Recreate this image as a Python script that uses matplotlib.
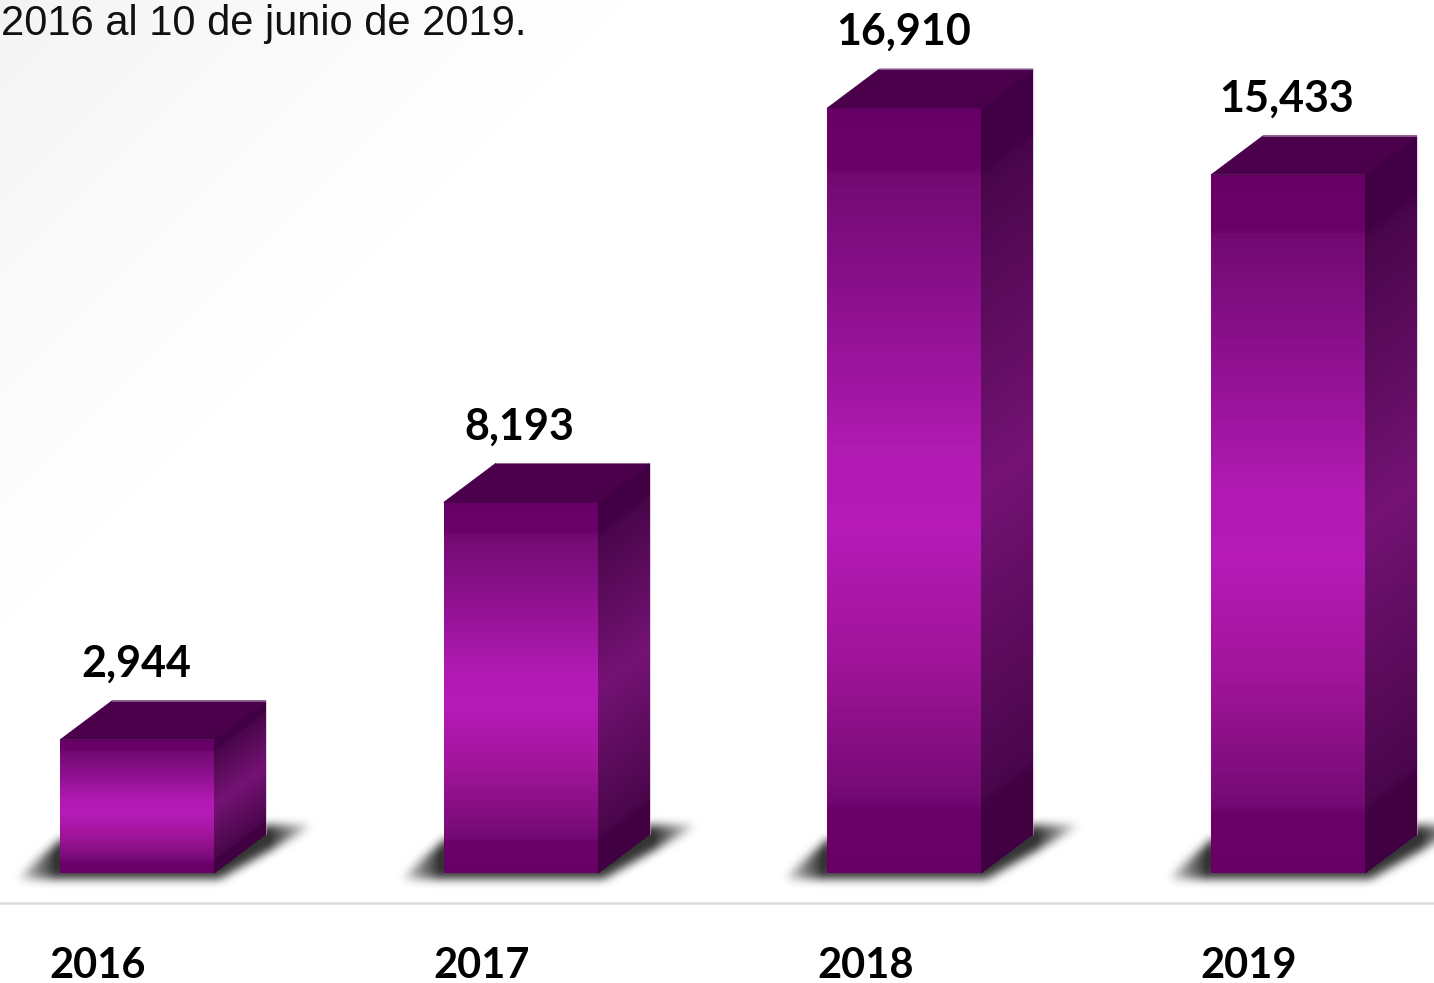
from matplotlib import pyplot as plt
from matplotlib.colors import LinearSegmentedColormap
from matplotlib.path import Path
from matplotlib.patches import Polygon
import numpy as np


years = ["2016", "2017", "2018", "2019"]
values = [2944, 8193, 16910, 15433]
value_labels = ["2,944", "8,193", "16,910", "15,433"]
note_text = "2016 al 10 de junio de 2019."

WIDTH = 1434
HEIGHT = 983
PX_PER_UNIT = 765 / 16910
PX_PER_CAT = 383.67
X_FIRST = 137
Y_ZERO = 873

BAR_W = 154 / PX_PER_CAT
DEPTH_X = 52 / PX_PER_CAT
DEPTH_Y = 39 / PX_PER_UNIT

front_cmap = LinearSegmentedColormap.from_list("front", [
    (0.0, "#660066"), (0.075, "#680068"), (0.09, "#720a72"), (0.3, "#941296"),
    (0.45, "#b01ab2"), (0.55, "#b51ab7"), (0.72, "#a01499"), (0.9, "#750a74"),
    (0.92, "#680068"), (1.0, "#660066")])
side_cmap = LinearSegmentedColormap.from_list("side", [
    (0.0, "#420044"), (0.08, "#420044"), (0.1, "#4a064b"), (0.5, "#741274"),
    (0.9, "#4a064b"), (0.92, "#400042"), (1.0, "#400042")])


def px_x(dx):
    return dx / PX_PER_CAT


def px_y(dy):
    return dy / PX_PER_UNIT


def draw_background(ax):
    xx, yy = np.meshgrid(np.arange(WIDTH // 4), np.arange(HEIGHT // 4))
    fade = np.clip((xx + yy) * 4 / 680, 0, 1)
    grey = 0.955 + 0.045 * fade
    ax.imshow(grey, extent=[0, 1, 0, 1], transform=ax.transAxes, cmap="gray",
              vmin=0, vmax=1, aspect="auto", origin="upper", zorder=0)


def blur(mask, size):
    kernel = np.ones(size) / size
    for _ in range(3):
        mask = np.apply_along_axis(lambda row: np.convolve(row, kernel, mode="same"), 0, mask)
        mask = np.apply_along_axis(lambda row: np.convolve(row, kernel, mode="same"), 1, mask)
    return mask


def draw_shadow(ax, i):
    # shape in pixels relative to the front bottom left corner, y up
    w = 154
    shape = [(-45, -5), (0, 34), (w + 52, 48), (w + 100, 48), (w + 4, -6)]
    left, right, bottom, top = -90, w + 150, -40, 90
    xx, yy = np.meshgrid(np.arange(left, right), np.arange(top, bottom, -1))
    pts = np.column_stack([xx.ravel(), yy.ravel()])
    mask = Path(shape).contains_points(pts).reshape(xx.shape).astype(float)
    mask = blur(mask, 9)
    taper = np.clip((xx + 50) / 45, 0, 1) * np.clip((w + 105 - xx) / 50, 0, 1)
    rgba = np.zeros(mask.shape + (4,))
    rgba[..., :3] = 0.2
    rgba[..., 3] = mask * taper
    x0 = i - BAR_W / 2
    ax.imshow(rgba, extent=[x0 + px_x(left), x0 + px_x(right), px_y(bottom), px_y(top)],
              aspect="auto", zorder=1, interpolation="bilinear")


def draw_bar(ax, i, value):
    x0 = i - BAR_W / 2
    x1 = i + BAR_W / 2
    fractions = np.linspace(0, 1, 400)
    ys = value * (1 - fractions)
    shade = (fractions[:-1] + fractions[1:]) / 2

    # front face
    X, Y = np.meshgrid([x0, x1], ys)
    ax.pcolormesh(X, Y, shade[:, None], cmap=front_cmap, vmin=0, vmax=1, zorder=3)

    # side face, sheared
    X = np.column_stack([np.full_like(ys, x1), np.full_like(ys, x1 + DEPTH_X)])
    Y = np.column_stack([ys, ys + DEPTH_Y])
    ax.pcolormesh(X, Y, shade[:, None], cmap=side_cmap, vmin=0, vmax=1, zorder=3)

    # top face
    ax.add_patch(Polygon([(x0, value), (x1, value), (x1 + DEPTH_X, value + DEPTH_Y), (x0 + DEPTH_X, value + DEPTH_Y)],
                         facecolor="#4b004b", edgecolor="#4b004b", linewidth=0.5, zorder=4))
    ax.plot([x0 + DEPTH_X, x1 + DEPTH_X, x1 + DEPTH_X], [value + DEPTH_Y, value + DEPTH_Y, DEPTH_Y],
            color="#c8a8c8", linewidth=0.6, alpha=0.6, zorder=5)


def main():
    fig = plt.figure(figsize=(WIDTH / 100, HEIGHT / 100), dpi=100)
    ax = fig.add_axes([0, 0, 1, 1])
    xlim = (-X_FIRST / PX_PER_CAT, (WIDTH - X_FIRST) / PX_PER_CAT)
    ylim = ((Y_ZERO - HEIGHT) / PX_PER_UNIT, Y_ZERO / PX_PER_UNIT)

    draw_background(ax)
    for i, value in enumerate(values):
        draw_shadow(ax, i)
        draw_bar(ax, i, value)
        ax.annotate(value_labels[i], (i, value), xytext=(-1 * 0.72, 76 * 0.72), textcoords="offset points",
                    ha="center", va="center", fontsize=31, fontweight="bold",
                    family="Lato", color="black", zorder=6)
        ax.annotate(years[i], (i, 0), xytext=(-39 * 0.72, -92.5 * 0.72), textcoords="offset points",
                    ha="center", va="center", fontsize=30, fontweight="bold",
                    family="Lato", color="black", zorder=6)

    ax.axhline(-px_y(30), color="#dcdcdc", linewidth=1.8, zorder=2)
    ax.text(1 / WIDTH, 1 - 24 / HEIGHT, note_text, transform=ax.transAxes, ha="left", va="center",
            fontsize=30, family="Liberation Sans", color="#111111", zorder=6)

    ax.set_xlim(xlim)
    ax.set_ylim(ylim)
    ax.axis("off")
    fig.savefig("out.png", dpi=100)


if __name__ == "__main__":
    main()
